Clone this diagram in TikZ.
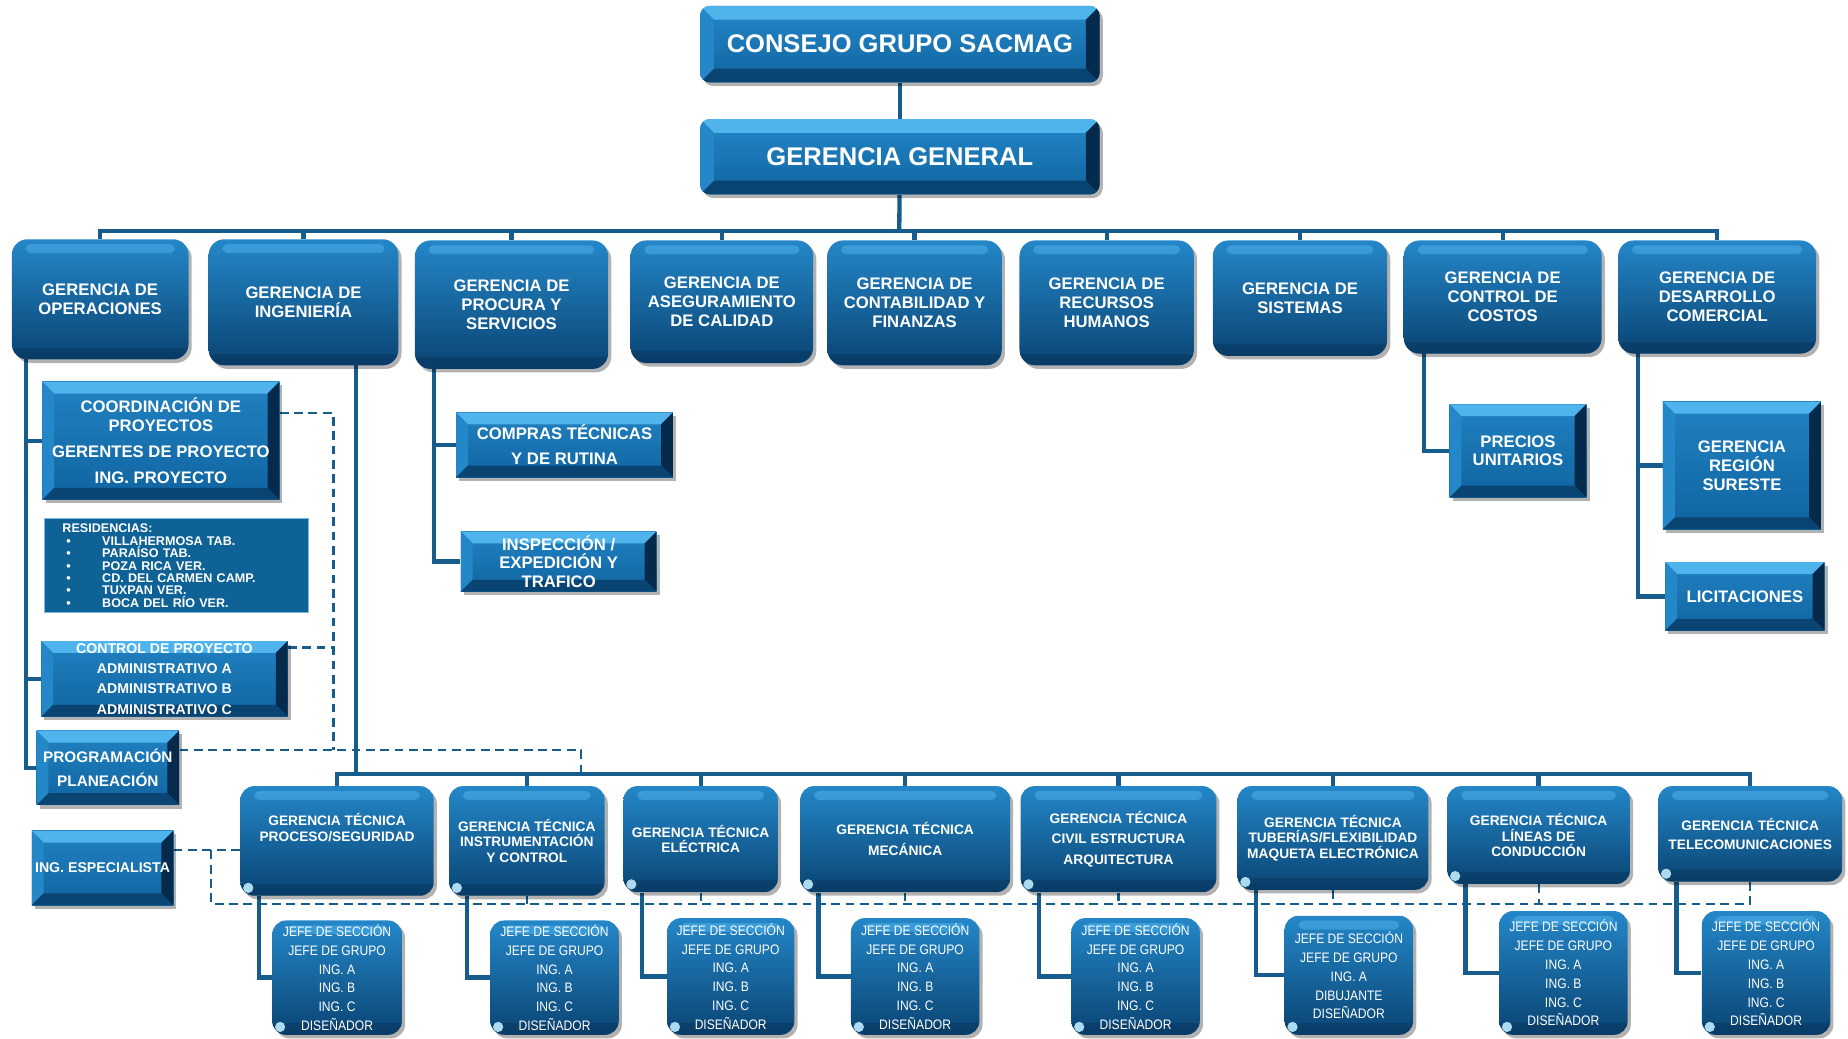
\documentclass[tikz,border=0pt]{standalone}
\usepackage{fontspec}
\setmainfont{Liberation Sans}
\newfontfamily\narrowsans{Liberation Sans}[FakeStretch=0.88]
\usepackage{xcolor}
\usetikzlibrary{positioning,calc,shadows,backgrounds}

\definecolor{lineblue}{RGB}{22,92,140}
\definecolor{boxtop}{RGB}{36,135,200}
\definecolor{boxmid}{RGB}{16,100,160}
\definecolor{boxbot}{RGB}{10,68,115}
\definecolor{bevlight}{RGB}{80,180,236}
\definecolor{bevdark}{RGB}{6,42,75}
\definecolor{resblue}{RGB}{14,98,150}
\definecolor{glare}{RGB}{190,235,255}

% shine on the rounded boxes
\newcommand{\glossbits}{%
  \shade[rounded corners=2.5pt, top color=bevlight, bottom color=boxtop, opacity=0.55]
    ([shift={(7pt,-2.5pt)}]path picture bounding box.north west) rectangle
    ([shift={(-7pt,-7pt)}]path picture bounding box.north east);
  \fill[sharp corners, bevdark, opacity=0.3]
    (path picture bounding box.south west) rectangle
    ([yshift=6pt]path picture bounding box.south east);}
\newcommand{\glarebit}{%
  \fill[glare, opacity=0.9] ([shift={(4pt,4pt)}]path picture bounding box.south west) circle (2.6pt);}
% bevel on the square boxes
\newcommand{\bevelbits}[1]{%
  \coordinate (pa) at (path picture bounding box.south west);
  \coordinate (pb) at (path picture bounding box.south east);
  \coordinate (pc) at (path picture bounding box.north east);
  \coordinate (pd) at (path picture bounding box.north west);
  \fill[sharp corners, bevlight] (pd) -- (pc) -- ([shift={(-#1,-#1)}]pc) -- ([shift={(#1,-#1)}]pd) -- cycle;
  \fill[sharp corners, boxtop] (pd) -- ([shift={(#1,-#1)}]pd) -- ([shift={(#1,#1)}]pa) -- (pa) -- cycle;
  \fill[sharp corners, bevdark] (pc) -- (pb) -- ([shift={(-#1,#1)}]pb) -- ([shift={(-#1,-#1)}]pc) -- cycle;
  \fill[sharp corners, boxbot] (pa) -- (pb) -- ([shift={(-#1,#1)}]pb) -- ([shift={(#1,#1)}]pa) -- cycle;}

\tikzset{
  conn/.style={draw=lineblue, line width=2.2pt},
  dline/.style={draw=lineblue, line width=1.1pt, dash pattern=on 4.5pt off 2.8pt},
  shadowed/.style={drop shadow={shadow xshift=1.6pt, shadow yshift=-1.8pt, opacity=0.3, fill=black}},
  headbox/.style={rectangle, rounded corners=5pt, top color=boxtop, bottom color=boxmid,
    text=white, align=center, inner sep=1pt, shadowed, font=\fontsize{13}{15}\selectfont\bfseries,
    path picture={\bevelbits{7pt}}},
  mgrbox/.style={rectangle, rounded corners=8pt, top color=boxtop, middle color=boxmid, bottom color=boxbot,
    text=white, align=center, inner sep=1pt, shadowed, font=\fontsize{8.5}{9.6}\selectfont\bfseries,
    path picture={\glossbits}},
  unitbox/.style={rectangle, top color=boxtop!85!boxmid, bottom color=boxmid,
    text=white, align=center, inner sep=0.5pt, shadowed, font=\fontsize{8.5}{9.6}\selectfont\bfseries,
    path picture={\bevelbits{6pt}}},
  techbox/.style={rectangle, rounded corners=7pt, top color=boxtop, middle color=boxmid, bottom color=boxbot,
    text=white, align=center, inner sep=1pt, shadowed, font=\fontsize{7}{7.8}\selectfont\bfseries,
    path picture={\glossbits\glarebit}},
  staffbox/.style={rectangle, rounded corners=7pt, top color=boxtop, middle color=boxmid, bottom color=boxbot,
    text=white, align=center, inner sep=0.5pt, shadowed, font=\narrowsans\fontsize{7}{9.6}\selectfont,
    path picture={\glossbits\glarebit}},
  resbox/.style={rectangle, fill=resblue, draw=boxtop!60!white, line width=0.4pt, text=white,
    align=left, inner xsep=9pt, inner ysep=1pt, font=\fontsize{6.4}{6.3}\selectfont\bfseries}
}

\begin{document}
\begin{tikzpicture}[x=0.6pt, y=-0.6pt]
  \path[use as bounding box] (0,0) rectangle (1568,881);

  % top
  \node[headbox, minimum width=203.4pt, minimum height=39pt] (consejo) at (763.5,37.5) {CONSEJO GRUPO SACMAG};
  \node[headbox, minimum width=203.4pt, minimum height=38.4pt] (general) at (763.5,133) {GERENCIA GENERAL};

  % gerencias
  \node[mgrbox, minimum width=90pt, minimum height=61.2pt] (ops) at (85,254) {GERENCIA DE\\OPERACIONES};
  \node[mgrbox, minimum width=96.6pt, minimum height=64.2pt] (ing) at (257.5,256.5) {GERENCIA DE\\INGENIERÍA};
  \node[mgrbox, minimum width=98.4pt, minimum height=65.4pt] (proc) at (434,258.5) {GERENCIA DE\\PROCURA Y\\SERVICIOS};
  \node[mgrbox, minimum width=93pt, minimum height=62.4pt] (aseg) at (612.5,256) {GERENCIA DE\\ASEGURAMIENTO\\DE CALIDAD};
  \node[mgrbox, minimum width=88.8pt, minimum height=63.6pt] (cont) at (776,257) {GERENCIA DE\\CONTABILIDAD Y\\FINANZAS};
  \node[mgrbox, minimum width=88.8pt, minimum height=63.6pt] (rh) at (939,257) {GERENCIA DE\\RECURSOS\\HUMANOS};
  \node[mgrbox, minimum width=88.8pt, minimum height=58.8pt] (sis) at (1103,253) {GERENCIA DE\\SISTEMAS};
  \node[mgrbox, minimum width=100.8pt, minimum height=57.6pt] (cost) at (1275,252) {GERENCIA DE\\CONTROL DE\\COSTOS};
  \node[mgrbox, minimum width=100.8pt, minimum height=57.6pt] (dc) at (1457,252) {GERENCIA DE\\DESARROLLO\\COMERCIAL};

  % operaciones
  \node[unitbox, minimum width=120.6pt, minimum height=60pt] (coord) at (136.5,374)
      {COORDINACIÓN DE\\PROYECTOS\\[3.5pt]GERENTES DE PROYECTO\\[3.5pt]ING. PROYECTO};
  \node[resbox, minimum height=48pt, text width=116.4pt] (res) at (150,480)
      {RESIDENCIAS:\\
       \hspace*{2pt}\textbullet\hspace{16pt}VILLAHERMOSA TAB.\\
       \hspace*{2pt}\textbullet\hspace{16pt}PARAÍSO TAB.\\
       \hspace*{2pt}\textbullet\hspace{16pt}POZA RICA VER.\\
       \hspace*{2pt}\textbullet\hspace{16pt}CD. DEL CARMEN CAMP.\\
       \hspace*{2pt}\textbullet\hspace{16pt}TUXPAN VER.\\
       \hspace*{2pt}\textbullet\hspace{16pt}BOCA DEL RÍO VER.};
  \node[unitbox, minimum width=125.4pt, minimum height=38.4pt, font=\fontsize{7.2}{10.4}\selectfont\bfseries] (ctrl) at (139.5,576)
      {CONTROL DE PROYECTO\\ADMINISTRATIVO A\\ADMINISTRATIVO B\\ADMINISTRATIVO C};
  \node[unitbox, minimum width=72.6pt, minimum height=37.8pt, font=\fontsize{7.8}{12}\selectfont\bfseries] (prog) at (91.5,651.5)
      {PROGRAMACIÓN\\PLANEACIÓN};
  \node[unitbox, minimum width=72pt, minimum height=37.8pt, font=\fontsize{7.2}{9}\selectfont\bfseries] (esp) at (87,736.5)
      {ING. ESPECIALISTA};

  % procura
  \node[unitbox, minimum width=110.4pt, minimum height=33pt, font=\fontsize{8.5}{12.6}\selectfont\bfseries] (compras) at (479,377.5)
      {COMPRAS TÉCNICAS\\Y DE RUTINA};
  \node[unitbox, minimum width=99.6pt, minimum height=30.6pt] (insp) at (474,476.5)
      {INSPECCIÓN /\\EXPEDICIÓN Y\\TRAFICO};

  % costos y comercial
  \node[unitbox, minimum width=69.6pt, minimum height=47.4pt] (precios) at (1288,382.5) {PRECIOS\\UNITARIOS};
  \node[unitbox, minimum width=80.4pt, minimum height=64.8pt] (region) at (1478,395) {GERENCIA\\REGIÓN\\SURESTE};
  \node[unitbox, minimum width=81pt, minimum height=34.8pt] (licit) at (1480.5,506) {LICITACIONES};

  % gerencias tecnicas
  \node[techbox, minimum width=98.4pt, minimum height=55.8pt] (gt1) at (286,713.5) {GERENCIA TÉCNICA\\PROCESO/SEGURIDAD\\[6pt]};
  \node[techbox, minimum width=79.2pt, minimum height=55.8pt] (gt2) at (447,713.5) {GERENCIA TÉCNICA\\INSTRUMENTACIÓN\\Y CONTROL};
  \node[techbox, minimum width=78.6pt, minimum height=54pt] (gt3) at (594.5,712) {GERENCIA TÉCNICA\\ELÉCTRICA};
  \node[techbox, minimum width=106.8pt, minimum height=54pt] (gt4) at (768,712) {GERENCIA TÉCNICA\\[3pt]MECÁNICA};
  \node[techbox, minimum width=99.6pt, minimum height=54pt] (gt5) at (949,712) {GERENCIA TÉCNICA\\[2.5pt]CIVIL ESTRUCTURA\\[2.5pt]ARQUITECTURA};
  \node[techbox, minimum width=97.2pt, minimum height=52.8pt] (gt6) at (1131,711) {GERENCIA TÉCNICA\\TUBERÍAS/FLEXIBILIDAD\\MAQUETA ELECTRÓNICA};
  \node[techbox, minimum width=93pt, minimum height=49.8pt] (gt7) at (1305.5,708.5) {GERENCIA TÉCNICA\\LÍNEAS DE\\CONDUCCIÓN};
  \node[techbox, minimum width=93.6pt, minimum height=48.6pt] (gt8) at (1485,707.5) {GERENCIA TÉCNICA\\[2pt]TELECOMUNICACIONES};

  % personal
  \node[staffbox, minimum width=66pt, minimum height=58.2pt] (st1) at (286,829.5) {JEFE DE SECCIÓN\\JEFE DE GRUPO\\ING. A\\ING. B\\ING. C\\DISEÑADOR};
  \node[staffbox, minimum width=65.4pt, minimum height=58.2pt] (st2) at (470.5,829.5) {JEFE DE SECCIÓN\\JEFE DE GRUPO\\ING. A\\ING. B\\ING. C\\DISEÑADOR};
  \node[staffbox, minimum width=64.8pt, minimum height=59.4pt] (st3) at (620,828.5) {JEFE DE SECCIÓN\\JEFE DE GRUPO\\ING. A\\ING. B\\ING. C\\DISEÑADOR};
  \node[staffbox, minimum width=65.4pt, minimum height=59.4pt] (st4) at (776.5,828.5) {JEFE DE SECCIÓN\\JEFE DE GRUPO\\ING. A\\ING. B\\ING. C\\DISEÑADOR};
  \node[staffbox, minimum width=65.4pt, minimum height=59.4pt] (st5) at (963.5,828.5) {JEFE DE SECCIÓN\\JEFE DE GRUPO\\ING. A\\ING. B\\ING. C\\DISEÑADOR};
  \node[staffbox, minimum width=65.4pt, minimum height=60.6pt] (st6) at (1144.5,827.5) {JEFE DE SECCIÓN\\JEFE DE GRUPO\\ING. A\\DIBUJANTE\\DISEÑADOR};
  \node[staffbox, minimum width=65.4pt, minimum height=63pt] (st7) at (1326.5,825.5) {JEFE DE SECCIÓN\\JEFE DE GRUPO\\ING. A\\ING. B\\ING. C\\DISEÑADOR};
  \node[staffbox, minimum width=65.4pt, minimum height=63pt] (st8) at (1498.5,825.5) {JEFE DE SECCIÓN\\JEFE DE GRUPO\\ING. A\\ING. B\\ING. C\\DISEÑADOR};

  \begin{scope}[on background layer]
    \fill[white] (0,0) rectangle (1568,881);
    % solid lines
    \draw[conn] (consejo) -- (general);
    \coordinate (bus1) at (763,196);
    \draw[conn] (general) -- (bus1);
    \foreach \n in {ops,ing,proc,aseg,cont,rh,sis,cost,dc}
      \draw[conn] (bus1) -| (\n.north);
    \coordinate (opsdrop) at (22,290);
    \draw[conn] (opsdrop) |- (prog.west);
    \draw[conn] (opsdrop |- coord.west) -- (coord.west);
    \draw[conn] (opsdrop |- ctrl.west) -- (ctrl.west);
    \coordinate (ingdrop) at (302,290);
    \coordinate (bus2) at (302,657);
    \draw[conn] (ingdrop) -- (bus2);
    \foreach \i in {1,...,8} {
      \draw[conn] (bus2) -| (gt\i.north);
      \draw[conn] ([xshift=9.5pt]gt\i.south west) |- (st\i.west);
    }
    \coordinate (procdrop) at (368,295);
    \draw[conn] (procdrop) |- (insp.west);
    \draw[conn] (procdrop |- compras.west) -- (compras.west);
    \coordinate (costdrop) at (1208,285);
    \draw[conn] (costdrop) |- (precios.west);
    \coordinate (dcdrop) at (1390,285);
    \draw[conn] (dcdrop) |- (licit.west);
    \draw[conn] (dcdrop |- region.west) -- (region.west);
    % dashed lines
    \coordinate (dashv) at (283,636);
    \draw[dline] ([yshift=14pt]coord.east) -| (dashv);
    \coordinate (ctrlr) at ([yshift=16pt]ctrl.east);
    \draw[dline] (ctrlr) -- (ctrlr -| dashv);
    \coordinate (progr) at ([yshift=9pt]prog.east);
    \coordinate (dashj) at (493,657);
    \draw[dline] (progr) -| (dashj);
    \coordinate (espr) at ([yshift=9pt]esp.east);
    \draw[dline] (espr) -- (espr -| gt1.west);
    \coordinate (dashl) at (179,767);
    \draw[dline] (espr -| dashl) -- (dashl) -| (gt8.south);
    \foreach \i in {2,...,7}
      \draw[dline] (gt\i.south) -- (gt\i.south |- dashl);
  \end{scope}
\end{tikzpicture}
\end{document}
